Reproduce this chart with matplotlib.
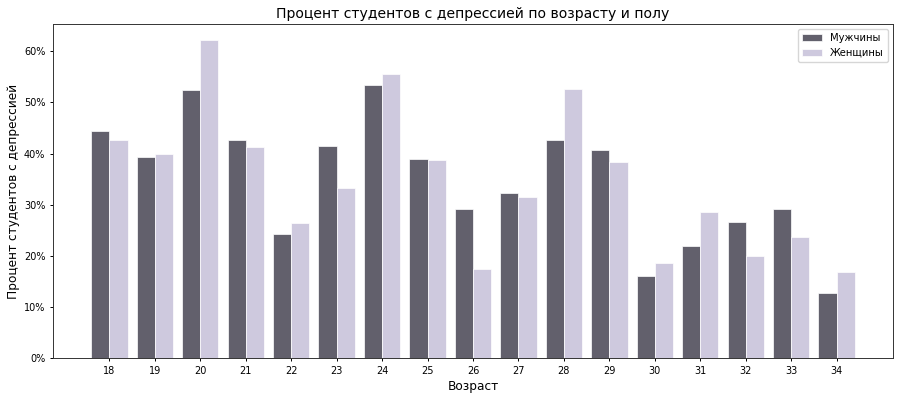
import matplotlib
matplotlib.use("Agg")
import matplotlib.pyplot as plt
import numpy as np
from matplotlib.ticker import PercentFormatter

ages = [18, 19, 20, 21, 22, 23, 24, 25, 26, 27, 28, 29, 30, 31, 32, 33, 34]
men = [44.5, 39.4, 52.5, 42.7, 24.3, 41.4, 53.3, 39.0, 29.1, 32.3, 42.7, 40.7, 16.1, 21.9, 26.7, 29.1, 12.8]
women = [42.7, 39.9, 62.2, 41.3, 26.5, 33.2, 55.6, 38.8, 17.4, 31.6, 52.6, 38.3, 18.6, 28.5, 19.9, 23.6, 16.8]

fig = plt.figure(figsize=(9, 3.99), dpi=100)
ax = fig.add_axes([53/900, 1-358.3/399, 840/900, 334.3/399])
x = np.arange(len(ages))
w = 0.4
ax.bar(x - w/2, men, w, color="#62606c", edgecolor="white", linewidth=0.5, label="Мужчины")
ax.bar(x + w/2, women, w, color="#cec9de", edgecolor="white", linewidth=0.5, label="Женщины")
ax.set_xticks(x)
ax.set_xticklabels([str(a) for a in ages])
ax.yaxis.set_major_formatter(PercentFormatter(decimals=0))
ax.tick_params(axis="both", labelsize=7, length=2.5, width=0.7, pad=3)
for s in ax.spines.values():
    s.set_linewidth(0.7)
    s.set_color("#333333")
ax.set_title("Процент студентов с депрессией по возрасту и полу", fontsize=10.1, pad=4)
ax.set_xlabel("Возраст", fontsize=8.7, labelpad=3)
ax.set_ylabel("Процент студентов с депрессией", fontsize=8.7, labelpad=3)
ax.legend(loc="upper right", fontsize=7.2)
fig.savefig("out.png", dpi=100)
